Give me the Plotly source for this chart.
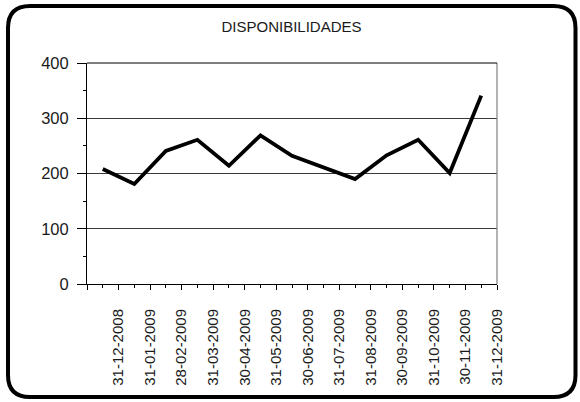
import plotly.graph_objects as go

# Monthly balances (DISPONIBILIDADES)
dates = ["31-12-2008", "31-01-2009", "28-02-2009", "31-03-2009", "30-04-2009",
         "31-05-2009", "30-06-2009", "31-07-2009", "31-08-2009", "30-09-2009",
         "31-10-2009", "30-11-2009", "31-12-2009"]
values = [208, 181, 241, 261, 214, 269, 232, 211, 190, 233, 261, 201, 341]
y_ticks = [0, 100, 200, 300, 400]

W, H = 580, 402
ML, MR, MT, MB = 87, 83, 63, 118
PW, PH = W - ML - MR, H - MT - MB

def px(x):
    return (x - ML) / PW

def py(y):
    return (H - MB - y) / PH

# rounded frame around the whole chart, built in pixel space
x0, x1, y0, y1, r = 8, 575.5, 6, 397, 22
pts = [
    ("M", [(x0 + r, y0)]),
    ("L", [(x1 - r, y0)]),
    ("Q", [(x1, y0), (x1, y0 + r)]),
    ("L", [(x1, y1 - r)]),
    ("Q", [(x1, y1), (x1 - r, y1)]),
    ("L", [(x0 + r, y1)]),
    ("Q", [(x0, y1), (x0, y1 - r)]),
    ("L", [(x0, y0 + r)]),
    ("Q", [(x0, y0), (x0 + r, y0)]),
]
frame_path = " ".join(
    cmd + " " + " ".join(f"{px(a):.5f},{py(b):.5f}" for a, b in coords)
    for cmd, coords in pts
) + " Z"

xpos = list(range(len(dates)))

fig = go.Figure()
fig.add_trace(go.Scatter(
    x=xpos, y=values, mode="lines",
    line=dict(color="black", width=3.8),
    hoverinfo="skip", showlegend=False,
))

font = dict(family="Liberation Sans", size=15, color="#1a1a1a")

fig.update_layout(
    width=W, height=H,
    margin=dict(l=ML, r=MR, t=MT, b=MB, pad=0),
    paper_bgcolor="white", plot_bgcolor="white",
    font=font,
    title=dict(text="DISPONIBILIDADES", x=(291.5 - ML) / PW, xref="paper",
               xanchor="center", y=1 - 27 / H, yanchor="middle",
               font=dict(family="Liberation Sans", size=15, color="#1a1a1a")),
    xaxis=dict(
        range=[-0.5, len(dates) - 0.5],
        tickmode="array",
        tickvals=[-0.5] + [i + 0.5 for i in xpos],
        ticktext=[""] + dates,
        tickangle=-90,
        ticks="outside", ticklen=5, tickcolor="black", tickwidth=1,
        ticklabelstandoff=13,
        minor=dict(tickmode="array", tickvals=xpos, ticks="outside",
                   ticklen=3, tickcolor="black", tickwidth=1),
        showgrid=False, zeroline=False,
        showline=True, linecolor="black", linewidth=1,
        fixedrange=True,
    ),
    yaxis=dict(
        range=[0, 400],
        tickmode="array", tickvals=y_ticks,
        tickfont=dict(size=16.5),
        ticks="outside", ticklen=9, tickcolor="black", tickwidth=1,
        ticklabelstandoff=5,
        minor=dict(tickmode="array", tickvals=[50, 150, 250, 350],
                   ticks="outside", ticklen=3, tickcolor="black", tickwidth=1),
        showgrid=True, gridcolor="#3a3a3a", gridwidth=1,
        zeroline=False,
        showline=True, linecolor="black", linewidth=1,
        fixedrange=True,
    ),
    shapes=[
        dict(type="line", xref="paper", yref="paper", x0=1, x1=1, y0=0, y1=1,
             line=dict(color="#808080", width=1.2)),
        dict(type="line", xref="paper", yref="paper", x0=0, x1=1, y0=1, y1=1,
             line=dict(color="black", width=1)),
        dict(type="path", xref="paper", yref="paper", path=frame_path,
             line=dict(color="black", width=4), layer="above"),
    ],
)

fig.write_html("out.html")
